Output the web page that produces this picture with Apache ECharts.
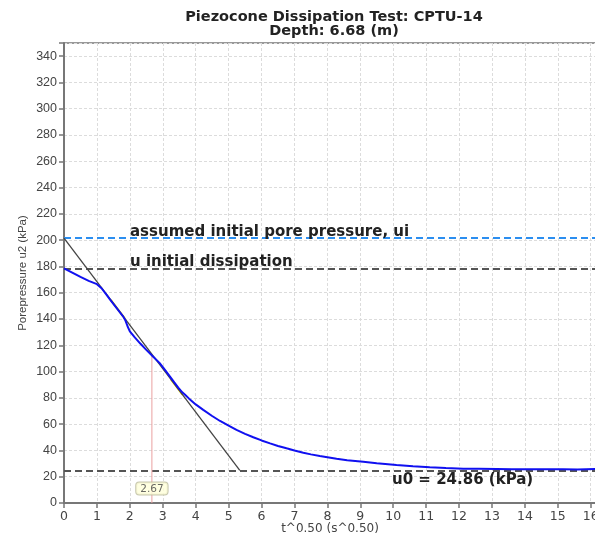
<!DOCTYPE html>
<html>
<head>
<meta charset="utf-8">
<script src="https://cdn.jsdelivr.net/npm/echarts@6/dist/echarts.min.js"></script>
<style>
  html, body { margin: 0; padding: 0; background: #fff; }
  #chart { width: 595px; height: 533px; }
</style>
</head>
<body>
<div id="chart"></div>
<script>
// Dissipation record: square-root time vs. measured pore pressure u2
const sqrtTime = [0.00, 0.25, 0.50, 0.75, 1.00, 1.14, 1.30, 1.40, 1.60, 1.80, 1.87, 1.93, 2.00, 2.15,
  2.31, 2.50, 2.71, 2.90, 3.02, 3.22, 3.35, 3.47, 3.60, 3.67, 3.80, 4.00, 4.23, 4.50, 4.74, 5.00, 5.24,
  5.50, 5.75, 6.00, 6.26, 6.50, 6.76, 7.00, 7.27, 7.50, 7.77, 8.00, 8.28, 8.60, 9.09, 9.50, 10.10, 10.60,
  11.11, 11.60, 12.13, 12.60, 13.14, 13.60, 14.15, 14.60, 15.15, 15.60, 16.16];
const porePressure = [178.5, 175.3, 172.0, 169.0, 166.5, 163.4, 158.2, 154.8, 148.3, 141.8, 138.6, 134.5,
  130.6, 126.0, 121.5, 116.5, 111.3, 106.6, 102.8, 96.2, 91.8, 87.8, 84.0, 82.5, 79.4, 75.0, 70.9, 66.2,
  62.4, 58.8, 55.6, 52.6, 50.0, 47.6, 45.4, 43.4, 41.6, 40.0, 38.3, 37.0, 35.7, 34.8, 33.6, 32.6, 31.3,
  30.2, 28.9, 28.0, 27.2, 26.6, 26.1, 26.0, 25.9, 25.7, 25.6, 25.7, 25.6, 25.5, 25.8];

// Reference pressures (kPa)
const uiAssumed = 201.5;
const uInitialDissipation = 178.5;
const u0 = 24.86;

// Tangent construction, the two fitted stretches on it, and the t50 result
const tangentX = [0, 5.34];
const tangentY = [uiAssumed, u0];
const fitStretchA = [1.42, 1.85];
const fitStretchB = [3.25, 3.6];
const t50 = 2.67;

// Axis tick settings
const xMin = 0, xMax = 16.16, xStep = 1;
const yMin = 0, yMax = 350, yStep = 20;

const titleText = 'Piezocone Dissipation Test: CPTU-14\nDepth: 6.68 (m)';
const xName = 't^0.50 (s^0.50)';
const yName = 'Porepressure u2 (kPa)';

function tangentAt(x) {
  const k = (tangentY[1] - tangentY[0]) / (tangentX[1] - tangentX[0]);
  return tangentY[0] + k * (x - tangentX[0]);
}
function curveAt(x) {
  for (let i = 1; i < sqrtTime.length; i++) {
    if (x <= sqrtTime[i]) {
      const f = (x - sqrtTime[i - 1]) / (sqrtTime[i] - sqrtTime[i - 1]);
      return porePressure[i - 1] + f * (porePressure[i] - porePressure[i - 1]);
    }
  }
  return porePressure[porePressure.length - 1];
}

const curve = sqrtTime.map((t, i) => [t, porePressure[i]]);
const tangent = tangentX.map((t, i) => [t, tangentY[i]]);
const fitSegments = [fitStretchA, fitStretchB].map(r => r.map(t => [t, tangentAt(t)]));
const t50Line = [[t50, curveAt(t50)], [t50, 0]];

const boldFont = { fontFamily: 'DejaVu Sans', fontWeight: 'bold', fontSize: 15, color: '#222' };

const chart = echarts.init(document.getElementById('chart'), null, { renderer: 'canvas' });
chart.setOption({
  animation: false,
  backgroundColor: '#ffffff',
  title: {
    text: titleText,
    left: 329,
    textAlign: 'center',
    top: 5,
    textStyle: Object.assign({}, boldFont, { lineHeight: 14, fontSize: 14.5 })
  },
  grid: {
    left: 64, top: 43, right: -1, bottom: 30,
    outerBoundsMode: 'none', containLabel: false,
    show: true, borderColor: '#333', borderWidth: 1
  },
  xAxis: {
    type: 'value', min: xMin, max: xMax, interval: xStep,
    name: xName, nameLocation: 'middle', nameGap: 20, nameMoveOverlap: false,
    nameTextStyle: { fontFamily: 'DejaVu Sans', fontSize: 12, color: '#444' },
    axisLine: { onZero: false, lineStyle: { color: '#777', width: 2 } },
    axisTick: { show: true, length: 5, lineStyle: { color: '#777', width: 1.5 } },
    axisLabel: {
      margin: 7, fontFamily: 'DejaVu Sans', fontSize: 12.5, color: '#444',
      formatter: v => (Math.abs(v - Math.round(v)) < 1e-6 ? String(Math.round(v)) : '')
    },
    splitLine: { show: true, lineStyle: { color: '#dcdcdc', type: [3, 2], width: 1 } }
  },
  yAxis: {
    type: 'value', min: yMin, max: yMax, interval: yStep,
    name: yName, nameLocation: 'middle', nameGap: 35, nameRotate: 90, nameMoveOverlap: false,
    nameTextStyle: { fontFamily: 'Liberation Sans', fontSize: 11.5, color: '#444' },
    axisLine: { onZero: false, lineStyle: { color: '#777', width: 2 } },
    axisTick: { show: true, length: 5, lineStyle: { color: '#777', width: 1.5 } },
    axisLabel: {
      margin: 7, fontFamily: 'Liberation Sans', fontSize: 12.5, color: '#444',
      formatter: v => (v % yStep === 0 ? String(v) : '')
    },
    splitLine: { show: true, lineStyle: { color: '#dcdcdc', type: [3, 2], width: 1 } }
  },
  series: [
    {
      // reference pressure levels
      type: 'line', data: [], silent: true,
      markLine: {
        silent: true, symbol: 'none', z: 2,
        data: [
          {
            yAxis: uiAssumed,
            lineStyle: { color: '#2b8ef0', type: [7, 4], width: 2 },
            label: Object.assign({ show: true, position: 'insideStartTop', distance: [66, -1],
              formatter: 'assumed initial pore pressure, ui' }, boldFont)
          },
          {
            yAxis: uInitialDissipation,
            lineStyle: { color: '#555', type: [7, 4], width: 2 },
            label: Object.assign({ show: true, position: 'insideStartTop', distance: [66, -1],
              formatter: 'u initial dissipation' }, boldFont)
          },
          {
            yAxis: u0,
            lineStyle: { color: '#555', type: [7, 4], width: 2 },
            label: Object.assign({ show: true, position: 'insideStartBottom', distance: [328, 2],
              formatter: 'u0 = ' + u0.toFixed(2) + ' (kPa)' }, boldFont)
          }
        ]
      }
    },
    ...fitSegments.map(seg => ({
      // fitted stretches of the record
      type: 'line', data: seg, showSymbol: false, z: 3,
      lineStyle: { color: '#e8d400', width: 2 }
    })),
    {
      // tangent through the linear part
      type: 'line', data: tangent, showSymbol: false, z: 4,
      lineStyle: { color: '#444', width: 1.3 }
    },
    {
      // t50 marker
      type: 'line', data: t50Line, showSymbol: false, z: 3,
      lineStyle: { color: '#eaa0a0', width: 1 }
    },
    {
      type: 'line', data: curve, showSymbol: false, z: 5,
      lineStyle: { color: '#1010f0', width: 2 }
    },
    {
      type: 'scatter', data: [[t50, 0]], symbolSize: 1, z: 6,
      itemStyle: { color: 'rgba(0,0,0,0)' },
      label: {
        show: true, position: 'top', distance: 8,
        formatter: p => p.value[0].toFixed(2),
        fontFamily: 'DejaVu Sans', fontSize: 10.5, color: '#444',
        backgroundColor: '#ffffd9', borderColor: '#b9b99a', borderWidth: 1,
        borderRadius: 3, padding: [1, 4, 0, 4]
      }
    }
  ]
});
</script>
</body>
</html>
